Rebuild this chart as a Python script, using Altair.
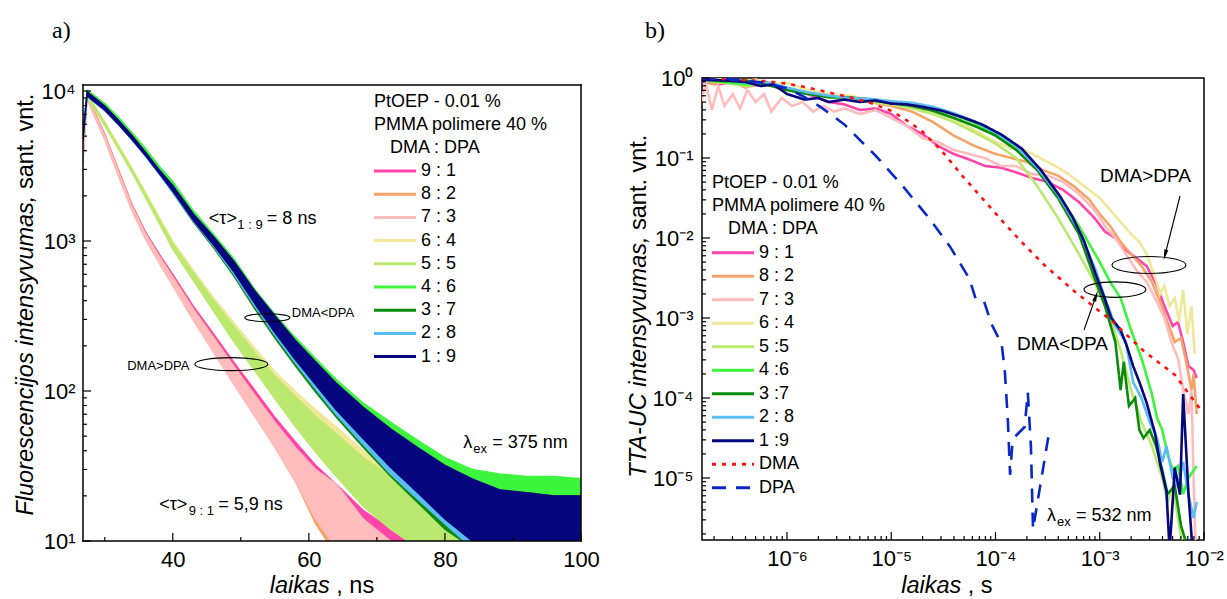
import altair as alt
import pandas as pd

FONT = "Liberation Sans"

# ------------------------------------------------------------------ panel a data
t_a = [26.8, 27.4, 28, 30, 32, 34, 36, 38, 40, 43, 46, 49, 52, 55, 58,
       61, 64, 68, 72, 76, 80, 84, 88, 92, 96, 100]
ratios_a = ["9 : 1", "8 : 2", "7 : 3", "6 : 4", "5 : 5", "4 : 6", "3 : 7", "2 : 8", "1 : 9"]
colors_a = ["#ff44aa", "#f4a469", "#ffbcbc", "#eee898", "#bbe86e",
            "#3cf53c", "#0c8a0c", "#5cbcf6", "#06067e"]

lo_91 = [3400, 9100, 7800, 4850, 2800, 1640, 1060, 740, 530, 315, 195, 120, 76, 47, 29, 17, 10, 6, 5, 5, 5, 5, 5, 5, 5, 5]
hi_91 = [3700, 9500, 8200, 5150, 3000, 1760, 1150, 820, 600, 370, 240, 155, 102, 67, 46, 32, 24, 16, 12, 10, 8, 7, 6, 6, 6, 6]
lo_82 = [3400, 9000, 7700, 4800, 2780, 1620, 1040, 720, 510, 300, 185, 112, 70, 42, 25, 13, 8, 5, 5, 5, 5, 5, 5, 5, 5, 5]
hi_82 = [3700, 9400, 8100, 5100, 2980, 1740, 1130, 800, 580, 355, 228, 146, 95, 62, 41, 28, 20, 13, 10, 8, 7, 6, 6, 6, 6, 6]
lo_73 = [3300, 9000, 7600, 4700, 2700, 1580, 1020, 710, 500, 295, 180, 110, 68, 42, 25, 14, 9, 6, 5, 5, 5, 5, 5, 5, 5, 5]
hi_73 = [3600, 9400, 8000, 5000, 2900, 1700, 1110, 790, 570, 350, 225, 145, 94, 62, 42, 30, 24, 14, 10, 8, 7, 6, 6, 6, 6, 6]
lo_64 = [4900, 9300, 8300, 5950, 4200, 2920, 1990, 1350, 920, 575, 360, 228, 148, 97, 64, 43, 30, 19, 13, 10, 8, 7, 6, 5, 5, 5]
hi_64 = [5300, 9700, 8700, 6250, 4400, 3080, 2110, 1450, 1000, 645, 420, 285, 195, 135, 100, 75, 58, 40, 29, 23, 19, 15, 12, 10, 9, 9]
lo_55 = [4800, 9200, 8200, 5850, 4100, 2850, 1940, 1310, 880, 545, 340, 212, 137, 89, 58, 39, 27, 17, 12, 9, 8, 7, 6, 5, 5, 5]
hi_55 = [5200, 9600, 8600, 6150, 4300, 3000, 2060, 1410, 960, 615, 400, 268, 182, 126, 92, 68, 52, 36, 27, 21, 16, 12, 10, 9, 8, 8]
lo_46 = [4800, 9500, 9100, 7750, 6300, 5000, 3900, 2950, 2250, 1420, 960, 630, 390, 248, 166, 113, 78, 50, 34, 24, 17, 13, 12, 11, 11, 11]
hi_46 = [5200, 10100, 9700, 8250, 6700, 5300, 4150, 3150, 2500, 1600, 1110, 760, 480, 325, 228, 165, 120, 83, 62, 47, 36, 30, 28, 27, 27, 26]
lo_37 = [4700, 9300, 8800, 7450, 6000, 4750, 3680, 2800, 2100, 1340, 900, 580, 355, 225, 147, 98, 67, 42, 27, 18, 12, 9, 8, 7, 7, 7]
hi_37 = [5100, 9900, 9400, 7950, 6400, 5050, 3920, 3000, 2330, 1480, 1020, 690, 440, 292, 198, 142, 102, 68, 48, 36, 28, 23, 21, 21, 20, 20]
lo_28 = [4700, 9300, 8750, 7400, 5950, 4700, 3650, 2780, 2120, 1360, 920, 600, 370, 235, 154, 103, 70, 44, 28, 19, 13, 9, 8, 7, 7, 7]
hi_28 = [5100, 9900, 9350, 7900, 6350, 5000, 3900, 2980, 2340, 1500, 1040, 705, 455, 302, 207, 149, 107, 72, 50, 37, 28, 23, 20, 20, 19, 19]
lo_19 = [4700, 9300, 8800, 7450, 6000, 4750, 3700, 2820, 2150, 1380, 940, 620, 385, 245, 162, 110, 75, 48, 31, 21, 14, 10, 8, 7, 7, 7]
hi_19 = [5100, 9900, 9400, 7950, 6400, 5050, 3900, 2980, 2350, 1520, 1070, 730, 468, 318, 218, 157, 113, 78, 56, 42, 32, 26, 22, 21, 20, 20]

# ------------------------------------------------------------------ panel b data (log10 values)
series_b = ["9 : 1", "8 : 2", "7 : 3", "6 : 4", "5 :5", "4 :6", "3 :7", "2 : 8", "1 :9", "DMA", "DPA"]
colors_b = ["#ff44aa", "#f4a469", "#ffbcbc", "#eee898", "#bbe86e",
            "#3cf53c", "#0c8a0c", "#5cbcf6", "#06067e", "#ff1010", "#0a28c8"]
dash_b = [[1, 0]] * 9 + [[4, 6], [14, 10]]

lt_91 = [-6.82, -6.65, -6.5, -6.35, -6.2, -6.0, -5.8, -5.6, -5.45, -5.3, -5.15, -5.0, -4.85, -4.7, -4.55, -4.4, -4.25, -4.1, -3.95, -3.8, -3.65, -3.5, -3.35, -3.2, -3.05, -2.95, -2.85, -2.75, -2.65, -2.55, -2.45, -2.38, -2.3, -2.25, -2.2, -2.15, -2.1, -2.07]
li_91 = [-0.05, -0.08, -0.04, -0.1, -0.08, -0.15, -0.2, -0.3, -0.33, -0.4, -0.38, -0.45, -0.6, -0.7, -0.85, -0.95, -1.02, -1.1, -1.12, -1.18, -1.25, -1.3, -1.4, -1.55, -1.75, -1.92, -2.0, -2.15, -2.25, -2.35, -2.6, -2.85, -3.1, -3.05, -3.3, -3.6, -3.65, -3.75]
lt_82 = [-6.82, -6.7, -6.55, -6.4, -6.25, -6.1, -6.0, -5.8, -5.6, -5.4, -5.2, -5.0, -4.8, -4.6, -4.4, -4.2, -4.0, -3.85, -3.7, -3.55, -3.4, -3.25, -3.1, -3.0, -2.9, -2.8, -2.7, -2.6, -2.5, -2.42, -2.35, -2.28, -2.22, -2.17, -2.12, -2.1, -2.07]
li_82 = [-0.02, -0.08, -0.03, -0.12, -0.05, -0.1, -0.15, -0.18, -0.22, -0.25, -0.3, -0.35, -0.42, -0.55, -0.72, -0.85, -0.95, -1.0, -1.05, -1.15, -1.22, -1.35, -1.52, -1.7, -1.85, -2.05, -2.2, -2.35, -2.55, -2.8, -3.05, -3.3, -3.25, -3.55, -3.9, -3.7, -4.2]
lt_73 = [-6.82, -6.78, -6.72, -6.66, -6.6, -6.52, -6.45, -6.38, -6.3, -6.22, -6.15, -6.05, -5.95, -5.85, -5.75, -5.65, -5.55, -5.45, -5.3, -5.15, -5.0, -4.85, -4.7, -4.55, -4.4, -4.25, -4.1, -3.95, -3.8, -3.65, -3.5, -3.35, -3.2, -3.05, -2.95, -2.85, -2.75, -2.65, -2.55, -2.45, -2.38, -2.3, -2.25, -2.2, -2.15, -2.12, -2.1, -2.08]
li_73 = [-0.3, -0.05, -0.4, -0.1, -0.35, -0.2, -0.38, -0.15, -0.3, -0.2, -0.42, -0.25, -0.35, -0.3, -0.42, -0.35, -0.42, -0.38, -0.45, -0.4, -0.5, -0.6, -0.75, -0.8, -0.9, -0.95, -1.0, -1.1, -1.1, -1.2, -1.22, -1.3, -1.45, -1.65, -1.85, -2.0, -2.2, -2.4, -2.55, -2.8, -3.0, -3.35, -3.5, -3.9, -4.2, -3.9, -5.0, -5.9]
lt_64 = [-6.82, -6.6, -6.45, -6.3, -6.15, -6.0, -5.8, -5.6, -5.4, -5.2, -5.0, -4.8, -4.6, -4.4, -4.2, -4.0, -3.85, -3.72, -3.6, -3.5, -3.4, -3.3, -3.2, -3.1, -3.0, -2.9, -2.8, -2.7, -2.62, -2.55, -2.48, -2.42, -2.38, -2.33, -2.28, -2.24, -2.2, -2.16, -2.12, -2.09]
li_64 = [-0.02, -0.01, -0.05, -0.02, -0.08, -0.06, -0.15, -0.2, -0.22, -0.27, -0.3, -0.35, -0.42, -0.52, -0.65, -0.8, -0.88, -0.9, -0.98, -1.05, -1.12, -1.2, -1.3, -1.4, -1.5, -1.65, -1.8, -1.95, -2.05, -2.2, -2.45, -2.7, -2.6, -2.85, -2.75, -3.05, -2.65, -3.2, -2.85, -3.45]
lt_55 = [-6.82, -6.6, -6.4, -6.2, -6.0, -5.8, -5.6, -5.4, -5.2, -5.0, -4.8, -4.6, -4.4, -4.2, -4.0, -3.8, -3.6, -3.4, -3.2, -3.05, -2.9, -2.8, -2.7, -2.6, -2.5, -2.4, -2.35, -2.3, -2.25, -2.2]
li_55 = [-0.02, -0.06, -0.1, -0.08, -0.15, -0.2, -0.22, -0.26, -0.3, -0.33, -0.38, -0.45, -0.55, -0.68, -0.82, -1.0, -1.35, -1.75, -2.2, -2.55, -3.0, -3.4, -3.9, -4.3, -4.6, -5.0, -5.3, -5.1, -5.5, -5.9]
lt_46 = [-6.82, -6.6, -6.4, -6.2, -6.0, -5.8, -5.6, -5.4, -5.2, -5.0, -4.8, -4.6, -4.4, -4.2, -4.0, -3.8, -3.6, -3.4, -3.2, -3.0, -2.9, -2.8, -2.7, -2.6, -2.5, -2.45, -2.4, -2.35, -2.3, -2.25, -2.2, -2.15, -2.07]
li_46 = [-0.03, -0.05, -0.08, -0.06, -0.14, -0.19, -0.24, -0.25, -0.27, -0.3, -0.33, -0.38, -0.46, -0.56, -0.7, -0.88, -1.1, -1.45, -1.85, -2.3, -2.55, -2.75, -3.15, -3.5, -3.95, -4.25, -4.4, -4.7, -4.9, -4.85, -5.2, -5.0, -4.85]
lt_37 = [-6.82, -6.6, -6.4, -6.2, -6.0, -5.8, -5.6, -5.4, -5.2, -5.0, -4.8, -4.6, -4.4, -4.2, -4.0, -3.8, -3.6, -3.4, -3.2, -3.05, -2.95, -2.85, -2.8, -2.77, -2.72, -2.66, -2.62, -2.58, -2.52, -2.46, -2.4, -2.35, -2.28, -2.22, -2.15]
li_37 = [-0.02, -0.04, -0.03, -0.08, -0.15, -0.2, -0.24, -0.24, -0.28, -0.31, -0.35, -0.41, -0.5, -0.6, -0.72, -0.9, -1.15, -1.5, -1.95, -2.5, -2.85, -3.3, -3.9, -3.55, -4.1, -4.0, -4.4, -4.5, -4.4, -4.6, -4.9, -5.2, -5.1, -5.6, -5.9]
lt_28 = [-6.82, -6.6, -6.4, -6.2, -6.0, -5.8, -5.6, -5.4, -5.2, -5.0, -4.8, -4.6, -4.4, -4.2, -4.0, -3.8, -3.6, -3.4, -3.2, -3.04, -2.95, -2.85, -2.75, -2.68, -2.6, -2.52, -2.45, -2.4, -2.36, -2.3, -2.25, -2.2, -2.15, -2.1, -2.07]
li_28 = [-0.03, -0.02, -0.06, -0.05, -0.12, -0.18, -0.22, -0.25, -0.26, -0.29, -0.31, -0.36, -0.44, -0.54, -0.68, -0.85, -1.12, -1.46, -1.9, -2.4, -2.75, -3.1, -3.3, -3.8, -4.0, -4.3, -4.5, -4.8, -4.6, -5.0, -5.1, -4.8, -5.2, -5.5, -5.3]
lt_19 = [-6.82, -6.6, -6.4, -6.25, -6.13, -6.0, -5.83, -5.7, -5.6, -5.45, -5.3, -5.15, -5.0, -4.85, -4.7, -4.51, -4.32, -4.13, -3.94, -3.75, -3.57, -3.38, -3.26, -3.15, -3.04, -2.96, -2.89, -2.8, -2.74, -2.68, -2.62, -2.55, -2.47, -2.42, -2.36, -2.33, -2.28, -2.23, -2.2, -2.15, -2.11]
li_19 = [-0.02, -0.03, -0.05, -0.1, -0.08, -0.2, -0.27, -0.25, -0.3, -0.27, -0.3, -0.28, -0.32, -0.33, -0.36, -0.41, -0.49, -0.58, -0.71, -0.88, -1.14, -1.48, -1.74, -2.04, -2.45, -2.73, -3.0, -3.15, -3.35, -3.6, -3.8, -4.06, -4.44, -4.83, -5.17, -5.9, -4.87, -5.21, -3.95, -5.17, -5.9]
lt_dma = [-6.82, -6.5, -6.2, -6.0, -5.8, -5.6, -5.4, -5.2, -5.0, -4.85, -4.7, -4.51, -4.32, -4.13, -3.94, -3.75, -3.53, -3.23, -2.89, -2.58, -2.28, -2.03]
li_dma = [0.0, -0.02, -0.04, -0.07, -0.12, -0.18, -0.24, -0.31, -0.41, -0.53, -0.67, -0.92, -1.22, -1.5, -1.78, -2.05, -2.34, -2.68, -3.03, -3.41, -3.71, -4.15]
lt_dpa = [-6.82, -6.58, -6.21, -6.0, -5.83, -5.68, -5.45, -5.15, -4.89, -4.62, -4.43, -4.25, -4.19, -4.11, -4.04, -3.94, -3.91, -3.88, -3.86, -3.84, -3.81, -3.72, -3.69, -3.66, -3.64, -3.49]
li_dpa = [0.0, -0.01, -0.06, -0.13, -0.24, -0.36, -0.58, -0.97, -1.35, -1.78, -2.12, -2.51, -2.76, -2.79, -3.07, -3.33, -3.67, -4.31, -4.96, -4.61, -4.48, -4.36, -3.93, -4.61, -5.64, -4.46]

header_lines = ["PtOEP - 0.01 %", "PMMA polimere 40 %", "DMA : DPA"]

# ------------------------------------------------------------------ tables
rows = []
for name, lo, hi in zip(ratios_a,
                        [lo_91, lo_82, lo_73, lo_64, lo_55, lo_46, lo_37, lo_28, lo_19],
                        [hi_91, hi_82, hi_73, hi_64, hi_55, hi_46, hi_37, hi_28, hi_19]):
    for t, l, h in zip(t_a, lo, hi):
        rows.append({"series": name, "t": t, "lo": l, "hi": h})
df_a = pd.DataFrame(rows)

rows = []
for name, lt, li in zip(series_b,
                        [lt_91, lt_82, lt_73, lt_64, lt_55, lt_46, lt_37, lt_28, lt_19, lt_dma, lt_dpa],
                        [li_91, li_82, li_73, li_64, li_55, li_46, li_37, li_28, li_19, li_dma, li_dpa]):
    for i, (a, b) in enumerate(zip(lt, li)):
        rows.append({"series": name, "idx": i, "t": 10 ** a, "I": 10 ** b})
df_b = pd.DataFrame(rows)

# ------------------------------------------------------------------ sizes / scales / axes
WA, HA = 498, 463      # panel a frame is drawn from y=7 (see frame_a) so its box is 456 px tall
TOP_A = 7
WB, HB = 502, 462

sup = {"0": "\u2070", "1": "\u00b9", "2": "\u00b2", "3": "\u00b3", "4": "\u2074",
       "5": "\u2075", "6": "\u2076", "-": "\u207b"}


def pow_expr(exps):
    parts = []
    for e in exps:
        s = "10" + "".join(sup[c] for c in str(e))
        parts.append(f"round(log(datum.value)/LN10) == {e} ? '{s}' : ")
    return "".join(parts) + "''"


xs_a = alt.Scale(domain=[26.8, 100], nice=False, zero=False)
ys_a = alt.Scale(type="log", domain=[10, 12210], nice=False)
xs_b = alt.Scale(type="log", domain=[1.531e-7, 1e-2], nice=False)
ys_b = alt.Scale(type="log", domain=[1.679e-6, 1], nice=False)

common_ax = dict(title=None, ticks=False, domain=False, grid=False, labelFont=FONT,
                 labelFontSize=22, labelColor="black", labelFlush=False)
AX_A = alt.Axis(values=[40, 60, 80, 100], labelPadding=8, **common_ax)
AY_A = alt.Axis(values=[10, 100, 1000, 10000], labelPadding=8,
                labelExpr=pow_expr([1, 2, 3, 4]), **common_ax)
AX_B = alt.Axis(values=[1e-6, 1e-5, 1e-4, 1e-3, 1e-2], labelPadding=8,
                labelExpr=pow_expr([-6, -5, -4, -3, -2]), **common_ax)
AY_B = alt.Axis(values=[1, 1e-1, 1e-2, 1e-3, 1e-4, 1e-5], labelPadding=9,
                labelExpr=pow_expr([0, -1, -2, -3, -4, -5]), **common_ax)


def xa(f):
    return alt.X(f, scale=xs_a, axis=AX_A)


def ya(f):
    return alt.Y(f, scale=ys_a, axis=AY_A)


def xb(f):
    return alt.X(f, scale=xs_b, axis=AX_B)


def yb(f):
    return alt.Y(f, scale=ys_b, axis=AY_B)


def xticks(vals, enc_x, h, ln):
    return alt.Chart(pd.DataFrame({"v": vals})).mark_rule(color="black", strokeWidth=1.2).encode(
        x=enc_x("v:Q"), y=alt.value(h), y2=alt.value(h - ln))


def yticks(vals, enc_y, ln):
    return alt.Chart(pd.DataFrame({"v": vals})).mark_rule(color="black", strokeWidth=1.2).encode(
        y=enc_y("v:Q"), x=alt.value(0), x2=alt.value(ln))


def note(enc_x, enc_y, x, y, text, size=18, dx=0, dy=0, align="left", style="normal"):
    return alt.Chart(pd.DataFrame({"x": [x], "y": [y], "s": [text]})).mark_text(
        align=align, baseline="middle", dx=dx, dy=dy, font=FONT, fontSize=size,
        fontStyle=style, color="black").encode(x=enc_x("x:Q"), y=enc_y("y:Q"), text="s:N")


def ellipse(enc_x, enc_y, x, y, w, h):
    r = h / w
    path = f"M-1,0 A1,{r:.3f} 0 1,1 1,0 A1,{r:.3f} 0 1,1 -1,0 Z"
    return alt.Chart(pd.DataFrame({"x": [x], "y": [y]})).mark_point(
        shape=path, size=w * w, filled=False, color="black", strokeWidth=1.1, opacity=1).encode(
        x=enc_x("x:Q"), y=enc_y("y:Q"))


def ptext(x, y, text, size, angle=0, align="left", style="normal", baseline="middle", font=FONT):
    return alt.Chart(pd.DataFrame({"s": [text]})).mark_text(
        align=align, baseline=baseline, angle=angle, font=font, fontSize=size, fontStyle=style,
        color="black").encode(x=alt.value(x), y=alt.value(y), text="s:N")


def frame_rule(x, y, x2=None, y2=None):
    enc = dict(x=alt.value(x), y=alt.value(y))
    if x2 is not None:
        enc["x2"] = alt.value(x2)
    if y2 is not None:
        enc["y2"] = alt.value(y2)
    return alt.Chart(pd.DataFrame({"a": [0]})).mark_rule(
        color="black", strokeWidth=1.5, strokeCap="square").encode(**enc)


def legend_block(names, x0, y_head, y_row, step, swatch_enc):
    """Legend drawn as header text plus one rule + label per series."""
    df = pd.DataFrame({"series": names, "py": [y_row + i * step for i in range(len(names))]})
    swatch = alt.Chart(df).mark_rule(strokeWidth=3, strokeCap="butt").encode(
        x=alt.value(x0), x2=alt.value(x0 + 42), y=alt.Y("py:Q", scale=None), **swatch_enc)
    labels = alt.Chart(df).mark_text(align="left", baseline="middle", font=FONT, fontSize=18,
                                     color="black").encode(
        x=alt.value(x0 + 47), y=alt.Y("py:Q", scale=None), text="series:N")
    heads = [ptext(x0, y_head, header_lines[0], 18),
             ptext(x0, y_head + 23, header_lines[1], 18),
             ptext(x0 + 16, y_head + 46, header_lines[2], 18)]
    return [swatch, labels] + heads


# ------------------------------------------------------------------ panel a
scale_a = alt.Scale(domain=ratios_a, range=colors_a)
bands = alt.Chart(df_a).mark_area(opacity=1, strokeWidth=1.3, clip=True).encode(
    x=xa("t:Q"), y=ya("lo:Q"), y2="hi:Q",
    fill=alt.Fill("series:N", scale=scale_a, legend=None),
    stroke=alt.Stroke("series:N", scale=scale_a, legend=None),
)

major_x_a = [40, 60, 80, 100]
minor_x_a = [30, 50, 70, 90]
major_y_a = [10, 100, 1000, 10000]
minor_y_a = [m * 10 ** k for k in (1, 2, 3) for m in range(2, 10)]

notes_a = [
    note(xa, ya, 45.3, 1400, "<\u03c4>"),
    note(xa, ya, 45.3, 1400, "1 : 9", size=13, dx=28.5, dy=6),
    note(xa, ya, 45.3, 1400, "= 8 ns", dx=58),
    note(xa, ya, 38.0, 17.4, "<\u03c4>"),
    note(xa, ya, 38.0, 17.4, "9 : 1", size=13, dx=29.5, dy=6),
    note(xa, ya, 38.0, 17.4, "= 5,9 ns", dx=59),
    note(xa, ya, 82.7, 45, "\u03bb"),
    note(xa, ya, 82.7, 45, "ex", size=13, dx=10, dy=6),
    note(xa, ya, 82.7, 45, "= 375 nm", dx=29),
    note(xa, ya, 57.5, 331, "DMA<DPA", size=13),
    note(xa, ya, 33.3, 147, "DMA>DPA", size=13),
    ellipse(xa, ya, 53.9, 308, 45, 8),
    ellipse(xa, ya, 48.6, 151, 73, 13),
]

titles_a = [
    ptext(-31, -47, "a)", 24, align="left", font="Liberation Serif"),
    ptext(-57, 117.6, "Fluorescencijos intensyvumas,", 23.5, angle=270, align="right", style="italic"),
    ptext(-57, 111.1, "sant. vnt.", 23.5, angle=270, align="left"),
    ptext(246.8, 515, "laikas", 23.5, align="right", style="italic", baseline="alphabetic"),
    ptext(253.3, 515, ", ns", 23.5, align="left", baseline="alphabetic"),
]

frame_a = [
    frame_rule(0, TOP_A, x2=WA),
    frame_rule(0, HA, x2=WA),
    frame_rule(0, TOP_A, y2=HA),
    frame_rule(WA, TOP_A, y2=HA),
]

legend_a = legend_block(ratios_a, 291, 23.7, 93, 23.2,
                        {"stroke": alt.Stroke("series:N", scale=scale_a, legend=None)})

panel_a = alt.layer(
    bands,
    xticks(major_x_a, xa, HA, 8), xticks(minor_x_a, xa, HA, 4),
    yticks(major_y_a, ya, 8), yticks(minor_y_a, ya, 4),
    *frame_a, *notes_a, *titles_a, *legend_a,
).properties(width=WA, height=HA, view=alt.ViewBackground(stroke=None))

# ------------------------------------------------------------------ panel b
scale_b = alt.Scale(domain=series_b, range=colors_b)
dscale_b = alt.Scale(domain=series_b, range=dash_b)
lines_b = alt.Chart(df_b).mark_line(strokeWidth=2.6, clip=True, strokeCap="butt").encode(
    x=xb("t:Q"), y=yb("I:Q"),
    color=alt.Color("series:N", scale=scale_b, legend=None),
    strokeDash=alt.StrokeDash("series:N", scale=dscale_b, legend=None),
    order="idx:Q",
)

major_x_b = [1e-6, 1e-5, 1e-4, 1e-3, 1e-2]
minor_x_b = [m * 10.0 ** k for k in (-7, -6, -5, -4, -3) for m in range(2, 10) if m * 10.0 ** k > 1.6e-7]
major_y_b = [1, 1e-1, 1e-2, 1e-3, 1e-4, 1e-5]
minor_y_b = [m * 10.0 ** k for k in (-6, -5, -4, -3, -2, -1) for m in range(2, 10) if m * 10.0 ** k > 1.7e-6]

arrows_b = pd.DataFrame({"x": [10 ** -2.23, 10 ** -3.151], "y": [10 ** -1.475, 10 ** -3.15],
                         "x2": [10 ** -2.374, 10 ** -3.036], "y2": [10 ** -2.2125, 10 ** -2.725],
                         "ang": [194.3, 19.4]})
arrow_lines = alt.Chart(arrows_b).mark_rule(color="black", strokeWidth=1.1).encode(
    x=xb("x:Q"), y=yb("y:Q"), x2="x2:Q", y2="y2:Q")
arrow_heads = alt.Chart(arrows_b).mark_point(
    shape="M0,-1 L0.38,1 L-0.38,1 Z", size=120, filled=True, color="black", opacity=1).encode(
    x=xb("x2:Q"), y=yb("y2:Q"), angle=alt.Angle("ang:Q", scale=None))

notes_b = [
    note(xb, yb, 10 ** -2.998, 10 ** -1.225, "DMA>DPA", size=19),
    note(xb, yb, 10 ** -3.794, 10 ** -3.33, "DMA<DPA", size=19),
    note(xb, yb, 10 ** -3.506, 10 ** -5.475, "\u03bb"),
    note(xb, yb, 10 ** -3.506, 10 ** -5.475, "ex", size=13, dx=10, dy=6),
    note(xb, yb, 10 ** -3.506, 10 ** -5.475, "= 532 nm", dx=29),
    ellipse(xb, yb, 10 ** -2.528, 10 ** -2.3375, 74, 17),
    ellipse(xb, yb, 10 ** -2.854, 10 ** -2.645, 62, 15.5),
]

titles_b = [
    ptext(-57, -47, "b)", 24, align="left", font="Liberation Serif"),
    ptext(-63, 158.5, "TTA-UC intensyvumas,", 23.5, angle=270, align="right", style="italic"),
    ptext(-63, 152, "sant. vnt.", 23.5, angle=270, align="left"),
    ptext(259.3, 515, "laikas", 23.5, align="right", style="italic", baseline="alphabetic"),
    ptext(265.8, 515, ", s", 23.5, align="left", baseline="alphabetic"),
]

legend_b = legend_block(series_b, 10, 104.7, 174.7, 23.5,
                        {"color": alt.Color("series:N", scale=scale_b, legend=None),
                         "strokeDash": alt.StrokeDash("series:N", scale=dscale_b, legend=None)})

panel_b = alt.layer(
    lines_b,
    xticks(major_x_b, xb, HB, 8), xticks(minor_x_b, xb, HB, 4),
    yticks(major_y_b, yb, 8), yticks(minor_y_b, yb, 4),
    arrow_lines, arrow_heads,
    *notes_b, *titles_b, *legend_b,
).properties(width=WB, height=HB)

chart = alt.hconcat(panel_a, panel_b, spacing=26).resolve_scale(
    x="independent", y="independent", color="independent", stroke="independent",
    fill="independent", strokeDash="independent",
).properties(
    padding={"left": 14, "top": 18, "right": 0, "bottom": 0},
).configure_view(stroke="black", strokeWidth=1.5)

chart.save("out.html", embed_options={"renderer": "svg", "actions": False})
